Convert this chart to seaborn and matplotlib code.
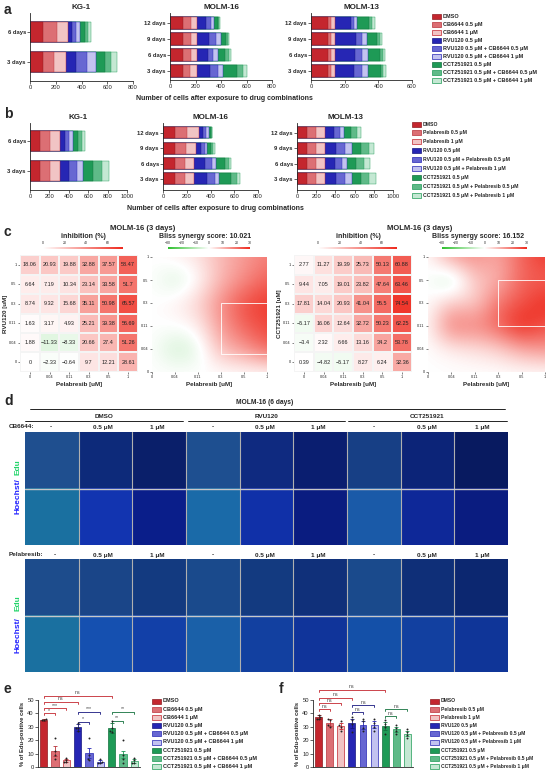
import numpy as np
import pandas as pd
import matplotlib
matplotlib.use('Agg')
import matplotlib.pyplot as plt
import seaborn as sns
from matplotlib.patches import Rectangle
from matplotlib.colors import LinearSegmentedColormap, Normalize, to_rgb
from matplotlib.cm import ScalarMappable

sns.set_theme(style='ticks')
plt.rcParams['font.family'] = ['Liberation Sans', 'DejaVu Sans']
plt.rcParams['axes.linewidth'] = 0.6

W, H = 550, 772

# ---------------- data ----------------
a_labels = ['DMSO', 'CB6644 0.5 μM', 'CB6644 1 μM', 'RVU120 0.5 μM',
            'RVU120 0.5 μM + CB6644 0.5 μM', 'RVU120 0.5 μM + CB6644 1 μM',
            'CCT251921 0.5 μM', 'CCT251921 0.5 μM + CB6644 0.5 μM',
            'CCT251921 0.5 μM + CB6644 1 μM']
b_labels = ['DMSO', 'Pelabresib 0.5 μM', 'Pelabresib 1 μM', 'RVU120 0.5 μM',
            'RVU120 0.5 μM + Pelabresib 0.5 μM', 'RVU120 0.5 μM + Pelabresib 1 μM',
            'CCT251921 0.5 μM', 'CCT251921 0.5 μM + Pelabresib 0.5 μM',
            'CCT251921 0.5 μM + Pelabresib 1 μM']

days2 = ['6 days', '3 days']
days4 = ['12 days', '9 days', '6 days', '3 days']

# cell counts per treatment segment (rows = days, cols = the 9 treatments)
a_kg1 = [[100, 110, 85, 35, 30, 30, 35, 25, 25],
         [100, 90, 90, 80, 80, 75, 70, 45, 45]]
a_molm16 = [[100, 65, 50, 65, 40, 25, 30, 10, 5],
            [100, 65, 50, 90, 55, 40, 40, 15, 10],
            [100, 65, 50, 80, 45, 35, 60, 30, 15],
            [100, 60, 55, 100, 60, 40, 110, 50, 25]]
a_molm13 = [[100, 20, 25, 90, 20, 20, 70, 20, 15],
            [100, 20, 25, 120, 40, 30, 60, 15, 12],
            [100, 20, 25, 115, 45, 35, 70, 15, 17],
            [100, 20, 25, 110, 50, 35, 75, 15, 16]]
b_kg1 = [[105, 100, 105, 50, 45, 43, 45, 40, 36],
         [100, 105, 105, 90, 80, 70, 100, 90, 70]]
b_molm16 = [[100, 100, 100, 40, 25, 20, 15, 10, 5],
            [100, 90, 90, 40, 30, 20, 35, 20, 15],
            [100, 85, 80, 90, 55, 40, 70, 35, 20],
            [100, 85, 80, 105, 65, 40, 95, 50, 30]]
b_molm13 = [[100, 100, 95, 95, 55, 40, 80, 60, 45],
            [100, 100, 95, 115, 85, 75, 95, 80, 60],
            [100, 100, 95, 105, 65, 55, 90, 85, 65],
            [100, 100, 95, 110, 90, 75, 100, 85, 70]]

doses = ['0', '0.04', '0.11', '0.3', '0.5', '1']
doses_rev = doses[::-1]

# inhibition (%) ; rows top->bottom = 1, 0.5, 0.3, 0.11, 0.04, 0 ; cols = pelabresib 0..1
inh_rvu = [[18.06, 20.93, 19.88, 32.88, 37.57, 58.47],
           [6.64, 7.19, 10.34, 23.14, 33.58, 51.7],
           [8.74, 9.32, 15.68, 35.11, 50.98, 65.57],
           [1.63, 3.17, 4.93, 25.21, 39.38, 56.69],
           [1.88, -11.33, -8.33, 20.66, 27.4, 51.26],
           [0, -2.33, -0.64, 9.7, 12.21, 28.61]]
inh_cct = [[2.77, 11.27, 19.39, 25.73, 50.13, 60.88],
           [9.44, 7.05, 19.01, 23.82, 47.64, 63.46],
           [17.81, 14.04, 20.93, 41.04, 55.5, 74.54],
           [-5.17, 16.06, 12.64, 32.72, 50.23, 62.25],
           [-3.4, 2.32, 6.66, 13.16, 34.2, 53.78],
           [0.39, -4.82, -5.17, 8.27, 6.24, 32.36]]
# Bliss synergy (same layout)
bliss_rvu = [[0, 2, 4, 10, 14, 18],
             [0, -6, 0, 10, 16, 22],
             [0, 2, 6, 16, 25, 28],
             [0, 0, 2, 14, 22, 26],
             [0, -7, -4, 10, 14, 22],
             [0, 0, 0, 0, 0, 0]]
bliss_cct = [[0, 14, 16, 12, 22, 28],
             [0, -10, 8, 10, 22, 22],
             [0, 8, 6, 20, 24, 30],
             [0, 20, 17, 22, 32, 24],
             [0, 2, 4, 6, 12, 15],
             [0, 0, 0, 0, 0, 0]]
bliss_scores = ['10.021', '16.152']

# EdU-positive cells (%)
e_means = [35, 12, 5, 29.5, 10.5, 4, 29, 9.5, 4.5]
e_sems = [0.8, 3.5, 1.3, 2.5, 4, 1.3, 3.5, 2.8, 1.5]
e_points = [[35.5, 35, 35.2], [22, 12, 9, 6], [6.5, 5, 4, 3.5],
            [33, 29, 27, 29], [22, 9, 6, 5], [6, 4, 3, 3],
            [34, 29, 27, 26], [20, 9, 6, 3], [7, 5, 3, 3]]
f_means = [37, 33, 30.5, 32.5, 31.5, 31.5, 30.5, 28, 25]
f_sems = [1.5, 2.5, 2.5, 3.5, 3, 2.5, 3, 2, 2]
f_points = [[39, 37, 36, 36], [36, 35, 31, 30], [34, 30, 27, 31],
            [37, 35, 26, 32], [36, 34, 27, 29], [36, 33, 27, 30],
            [35, 32, 25, 30], [31, 29, 25, 27], [28, 26, 22, 24]]
# significance brackets: (from bar, to bar, height, text)
e_sig = [(0, 6, 53, 'ns'), (0, 3, 48.7, 'ns'), (0, 2, 43.7, '***'), (0, 1, 40, '*'),
         (3, 5, 41.2, '***'), (3, 4, 33.7, '*'), (6, 8, 41, '**'), (6, 7, 34.5, '**')]
f_sig = [(0, 6, 57.5, 'ns'), (0, 3, 51.7, 'ns'), (0, 2, 47.5, 'ns'), (0, 1, 43, 'ns'),
         (3, 5, 46, 'ns'), (3, 4, 41, 'ns'), (6, 8, 43, 'ns'), (6, 7, 38, 'ns')]

# panel d image tones (mean colour of each micrograph)
d_cb_over = ['#1f4f8f', '#0d2a7a', '#0a1f6a', '#1e4f90', '#0f2a80', '#0a1e70', '#173f85', '#0c2478', '#081a60']
d_cb_zoom = ['#1a70a0', '#1234b0', '#0a1e8a', '#1a6aa8', '#1030a8', '#0a1c80', '#1a5aa8', '#0e2898', '#0a1c80']
d_pel_over = ['#1d4c8c', '#1a4588', '#133a80', '#1a4a8c', '#133a80', '#10307a', '#1a4a8c', '#0f2f78', '#0c2770']
d_pel_zoom = ['#1a70a0', '#1550b0', '#1240a8', '#1a60a8', '#1240a0', '#10349a', '#1450a8', '#1240a0', '#0f3598']
d_groups = ['DMSO', 'RVU120', 'CCT251921']
d_doses = ['-', '0.5 μM', '1 μM']

faces = ['#c4262e', '#dc6f74', '#f1c4c4', '#2626b4', '#6767d2', '#c3c3f0',
         '#1e9a56', '#5fba88', '#c4e8d3']
edges = ['#8e1a1f', '#b8323a', '#c4262e', '#16167f', '#2626b4', '#2626b4',
         '#12703c', '#1e9a56', '#1e9a56']

# ---------------- helpers ----------------
fig = plt.figure(figsize=(W / 100, H / 100), dpi=100)


def add_ax(x0, y0, x1, y1):
    return fig.add_axes([x0 / W, 1 - y1 / H, (x1 - x0) / W, (y1 - y0) / H])


def stacked(ax, days, segs, xmax, title, width, pad_t, pad_b):
    cum = np.cumsum(np.array(segs, dtype=float), axis=1)
    for k in range(8, -1, -1):
        sns.barplot(x=cum[:, k], y=days, orient='h', color=faces[k], saturation=1,
                    width=width, edgecolor=edges[k], linewidth=0.3, errorbar=None, ax=ax)
    ax.set_xlim(0, xmax)
    ax.set_xticks(np.arange(0, xmax + 1, 200))
    ax.set_ylim(len(days) - 1 + pad_b, -pad_t)
    ax.set_xlabel('')
    ax.set_ylabel('')
    ax.set_title(title, fontsize=5.8, fontweight='bold', pad=3)
    ax.tick_params(labelsize=4.2, length=2, width=0.5, pad=1)
    for t in ax.get_yticklabels():
        t.set_fontweight('bold')
    sns.despine(ax=ax)


ov = fig.add_axes([0, 0, 1, 1], zorder=10)
ov.set_xlim(0, W)
ov.set_ylim(H, 0)
ov.axis('off')
ov.patch.set_alpha(0)


def draw_legend(x, y0, dy, labels, fs):
    for i, lab in enumerate(labels):
        y = y0 + i * dy
        ov.add_patch(Rectangle((x, y - 2.5), 9, 5, facecolor=faces[i], edgecolor=edges[i], lw=0.5))
        ov.text(x + 11, y, lab, fontsize=fs, fontweight='bold', va='center', ha='left')


# ---------------- panel a ----------------
ov.text(4, 10, 'a', fontsize=10, fontweight='bold', va='center')
stacked(add_ax(30, 13, 133, 81), days2, a_kg1, 800, 'KG-1', 0.67, 0.63, 0.63)
stacked(add_ax(170, 13, 272, 80), days4, a_molm16, 800, 'MOLM-16', 0.75, 0.63, 0.56)
stacked(add_ax(311, 13, 412, 80), days4, a_molm13, 600, 'MOLM-13', 0.75, 0.63, 0.56)
ov.text(224, 99, 'Number of cells after exposure to drug combinations', fontsize=5,
        fontweight='bold', ha='center', va='center')
draw_legend(432, 16, 8.1, a_labels, 4.0)

# ---------------- panel b ----------------
ov.text(4, 114, 'b', fontsize=10, fontweight='bold', va='center')
stacked(add_ax(30, 123, 127, 190), days2, b_kg1, 1000, 'KG-1', 0.67, 0.6, 0.63)
stacked(add_ax(163, 123, 258, 190), days4, b_molm16, 800, 'MOLM-16', 0.72, 0.65, 0.72)
stacked(add_ax(297, 123, 393, 190), days4, b_molm13, 1000, 'MOLM-13', 0.72, 0.65, 0.72)
ov.text(215, 208, 'Number of cells after exposure to drug combinations', fontsize=5,
        fontweight='bold', ha='center', va='center')
draw_legend(412, 124, 8.9, b_labels, 3.7)

# ---------------- panel c ----------------
ov.text(4, 232, 'c', fontsize=10, fontweight='bold', va='center')
cmap_div = LinearSegmentedColormap.from_list('gwr', ['#2fbf2f', '#ffffff', '#ee2a1e'])
cmap_red = LinearSegmentedColormap.from_list('wr', ['#ffffff', '#ee2a1e'])


def heat_block(hm_box, sf_box, cb1, cb2, inh, bliss, score, ylab, title_x, lab_x):
    ov.text(title_x, 228, 'MOLM-16 (3 days)', fontsize=5.5, fontweight='bold', ha='center', va='center')
    ov.text(lab_x[0], 237, 'inhibition (%)', fontsize=5, fontweight='bold', ha='center', va='center')
    ov.text(lab_x[1], 237, 'Bliss synergy score: ' + score, fontsize=5, fontweight='bold',
            ha='center', va='center')
    ax = add_ax(*hm_box)
    labels = np.array([[f'{v:g}'.replace('-', '\u2212') for v in row] for row in inh])
    sns.heatmap(np.array(inh), ax=ax, cmap=cmap_div, vmin=-40, vmax=80, center=0,
                annot=labels, fmt='', annot_kws={'fontsize': 4, 'color': '#222222'},
                linewidths=0.3, linecolor='#f4f4f4', cbar=False,
                xticklabels=doses, yticklabels=doses_rev)
    ax.tick_params(labelsize=2.8, length=1.5, width=0.4, pad=1)
    ax.set_xticklabels(doses, rotation=0)
    ax.set_yticklabels(doses_rev, rotation=0)
    ax.set_xlabel('Pelabresib [uM]', fontsize=4.5, fontweight='bold', labelpad=2)
    ax.set_ylabel(ylab, fontsize=4.5, fontweight='bold', labelpad=1)

    cax = add_ax(*cb1)
    cb = fig.colorbar(ScalarMappable(norm=Normalize(0, 74), cmap=cmap_red), cax=cax,
                      orientation='horizontal', ticks=[0, 20, 40, 60])
    cb.outline.set_visible(False)
    cax.xaxis.set_ticks_position('top')
    cax.tick_params(labelsize=2.5, length=0, pad=1)

    ax2 = add_ax(*sf_box)
    im = ax2.imshow(np.array(bliss, dtype=float), cmap=cmap_div, vmin=-30, vmax=30,
                    interpolation='bicubic', extent=(-0.5, 5.5, -0.5, 5.5), aspect='auto')
    ax2.set_xlim(0, 5)
    ax2.set_ylim(0, 5)
    ax2.set_xticks(range(6))
    ax2.set_xticklabels(doses)
    ax2.set_yticks(range(6))
    ax2.set_yticklabels(doses)
    ax2.tick_params(labelsize=2.8, length=1.5, width=0.4, pad=1)
    for s in ax2.spines.values():
        s.set_visible(False)
    ax2.set_xlabel('Pelabresib [uM]', fontsize=4.5, fontweight='bold', labelpad=2)
    cax2 = add_ax(*cb2)
    cb2_ = fig.colorbar(im, cax=cax2, orientation='horizontal', ticks=[-30, -20, -10, 0, 10, 20, 30])
    cb2_.outline.set_visible(False)
    cax2.xaxis.set_ticks_position('top')
    cax2.tick_params(labelsize=2.5, length=0, pad=1)
    return ax2


s1 = heat_block((20, 255, 138, 372), (152, 257, 267, 372), (43, 246.5, 123, 248.5),
                (168, 246.5, 250, 248.5), inh_rvu, bliss_rvu, bliss_scores[0], 'RVU120 [uM]',
                143, (83, 205))
s1.add_patch(Rectangle((3, 0.8), 2, 2.2, fill=False, edgecolor='white', lw=0.6))
s2 = heat_block((294, 255, 412, 372), (428, 257, 545, 372), (318, 246.5, 397, 248.5),
                (442, 246.5, 527, 248.5), inh_cct, bliss_cct, bliss_scores[1], 'CCT251921 [uM]',
                420, (358, 478))
s2.add_patch(Rectangle((3, 2), 2, 2, fill=False, edgecolor='white', lw=0.6))

# ---------------- panel d ----------------
ov.text(4, 401, 'd', fontsize=10, fontweight='bold', va='center')
ov.text(265, 403, 'MOLM-16 (6 days)', fontsize=4.8, fontweight='bold', ha='center', va='center')
ov.plot([30, 505], [408.5, 408.5], color='black', lw=0.6)
grp_span = [(25, 183), (188, 345), (348, 507)]
col_x = [51, 103, 157, 213, 265, 318, 374, 427, 482]
for g, (x0, x1) in zip(d_groups, grp_span):
    ov.text((x0 + x1) / 2, 416, g, fontsize=4.6, fontweight='bold', ha='center', va='center')
    ov.plot([x0, x1], [420.5, 420.5], color='black', lw=0.6)


def image_block(y_lab, y0, y1, over, zoom, drug, hy, ey):
    ov.text(9, y_lab, drug + ':', fontsize=4.6, fontweight='bold', ha='left', va='center')
    for i, x in enumerate(col_x):
        ov.text(x + (4 if i == 0 and drug == 'Pelabresib' else 0), y_lab, d_doses[i % 3],
                fontsize=4.6, fontweight='bold', ha='center', va='center')
    ax = add_ax(25, y0, 508, y1)
    img = np.array([[to_rgb(c) for c in over], [to_rgb(c) for c in zoom]])
    ax.imshow(img, extent=(0, 9, 2, 0), aspect='auto', interpolation='nearest')
    ax.set_autoscale_on(False)
    for k in range(1, 9):
        ax.plot([k, k], [0, 2], color='#b0b0b0', lw=0.8)
    ax.plot([0, 9], [1, 1], color='#c8c8c8', lw=1.0)
    ax.set_xlim(0, 9)
    ax.set_ylim(2, 0)
    ax.set_xticks([])
    ax.set_yticks([])
    for s in ax.spines.values():
        s.set_visible(False)
    ov.text(18, hy, 'Hoechst/', fontsize=6, fontweight='bold', color='#1f1fff',
            rotation=90, ha='center', va='center')
    ov.text(18, ey, 'Edu', fontsize=6, fontweight='bold', color='#22d46a',
            rotation=90, ha='center', va='center')


image_block(427, 432, 545, d_cb_over, d_cb_zoom, 'CB6644', 496, 467)
image_block(555, 559, 672, d_pel_over, d_pel_zoom, 'Pelabresib', 635, 603)


# ---------------- panels e, f ----------------
def edu_bars(ax, means, sems, points, sig):
    cats = [str(i) for i in range(9)]
    df = pd.DataFrame({'group': cats, 'value': means})
    sns.barplot(data=df, x='group', y='value', hue='group', palette=faces, saturation=1,
                width=0.62, legend=False, errorbar=None, ax=ax)
    for p, ec in zip(ax.patches, edges):
        p.set_edgecolor(ec)
        p.set_linewidth(0.5)
    for i in range(9):
        ax.errorbar(i, means[i], yerr=sems[i], fmt='none', ecolor=edges[i],
                    elinewidth=0.6, capsize=1.5, capthick=0.6)
    pts = pd.DataFrame({'group': [cats[i] for i, pp in enumerate(points) for _ in pp],
                        'value': [v for pp in points for v in pp]})
    sns.swarmplot(data=pts, x='group', y='value', order=cats, color='#222222', size=1.4, ax=ax)
    for i, j, y, txt in sig:
        c = edges[i] if i else faces[0]
        ax.plot([i, i, j, j], [y - 1.5, y, y, y - 1.5], color=c, lw=0.6, clip_on=False)
        ax.text((i + j) / 2, y + 0.4, txt, fontsize=3.8, ha='center', va='bottom',
                color='#444444', clip_on=False)
    ax.set_ylim(0, 50)
    ax.set_xlim(-0.5, 8.5)
    ax.set_yticks(range(0, 51, 10))
    ax.set_xticks([])
    ax.set_xlabel('')
    ax.set_ylabel('% of Edu-positive cells', fontsize=4.2, fontweight='bold', labelpad=1.5)
    ax.tick_params(labelsize=4.2, length=2, width=0.5, pad=1)
    sns.despine(ax=ax)


ov.text(4, 689, 'e', fontsize=10, fontweight='bold', va='center')
edu_bars(add_ax(38, 700, 140, 767), e_means, e_sems, e_points, e_sig)
draw_legend(152, 701, 8.2, a_labels, 4.0)

ov.text(279, 689, 'f', fontsize=10, fontweight='bold', va='center')
edu_bars(add_ax(313, 700, 413, 767), f_means, f_sems, f_points, f_sig)
draw_legend(430, 701, 8.2, b_labels, 3.6)

fig.savefig('out.png', dpi=100)
